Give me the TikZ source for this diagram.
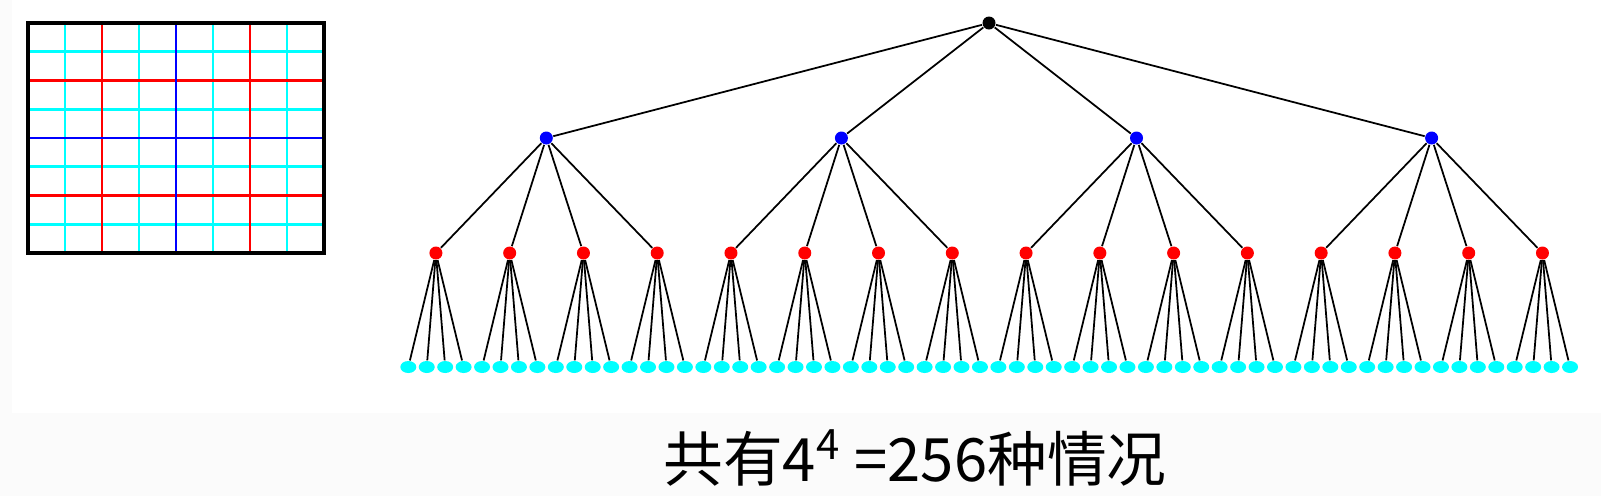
\documentclass[tikz,border=0pt]{standalone}
\usepackage{fontspec}
\newfontfamily\cjk{Noto Sans CJK SC}
\usetikzlibrary{shapes.geometric}
\definecolor{aqua}{RGB}{0,255,255}
\definecolor{pure red}{RGB}{255,0,0}
\definecolor{pure blue}{RGB}{0,0,255}

\begin{document}
\begin{tikzpicture}[x=0.01cm,y=-0.01cm,
    dot/.style={circle,inner sep=0pt,minimum size=0.13cm},
    leaf/.style={ellipse,inner sep=0pt,fill=aqua,minimum width=0.16cm,minimum height=0.12cm},
    edge/.style={line width=0.5pt}]
    \useasboundingbox (0,0) rectangle (1601,496);
    \fill[black!1.5] (0,413) rectangle (1601,496);
    \fill[black!1.5] (0,0) rectangle (12,413);
    % grid
    \foreach \i in {1,3,5,7} {
        \draw[aqua,line width=0.75pt] ({28+37*\i},23) -- ({28+37*\i},253);
        \draw[aqua,line width=0.75pt] (28,{23+28.75*\i}) -- (324,{23+28.75*\i});
    }
    \foreach \i in {2,6} {
        \draw[pure red,line width=0.75pt] ({28+37*\i},23) -- ({28+37*\i},253);
        \draw[pure red,line width=0.75pt] (28,{23+28.75*\i}) -- (324,{23+28.75*\i});
    }
    \draw[pure blue,line width=0.75pt] (176,23) -- (176,253);
    \draw[pure blue,line width=0.75pt] (28,138) -- (324,138);
    \draw[line width=0.9pt] (28,23) rectangle (324,253);
    % tree
    \node[dot,fill=black] (r) at (989,23) {};
    \foreach \i in {0,...,3} {
        \node[dot,fill=pure blue] (a\i) at ({546.3+295.1*\i},138) {};
        \draw[edge] (r) -- (a\i);
    }
    \foreach \i in {0,...,15} {
        \pgfmathtruncatemacro\p{\i/4}
        \node[dot,fill=pure red] (b\i) at ({435.9+73.77*\i},253) {};
        \draw[edge] (a\p) -- (b\i);
    }
    \foreach \i in {0,...,63} {
        \pgfmathtruncatemacro\p{\i/4}
        \node[leaf] (c\i) at ({408.3+18.44*\i},367) {};
        \draw[edge] (b\p) -- (c\i);
    }
    \node[font=\cjk\fontsize{17}{20}\selectfont] (total) at (915,458)
        {共有4\textsuperscript{4} =256种情况};
\end{tikzpicture}
\end{document}
